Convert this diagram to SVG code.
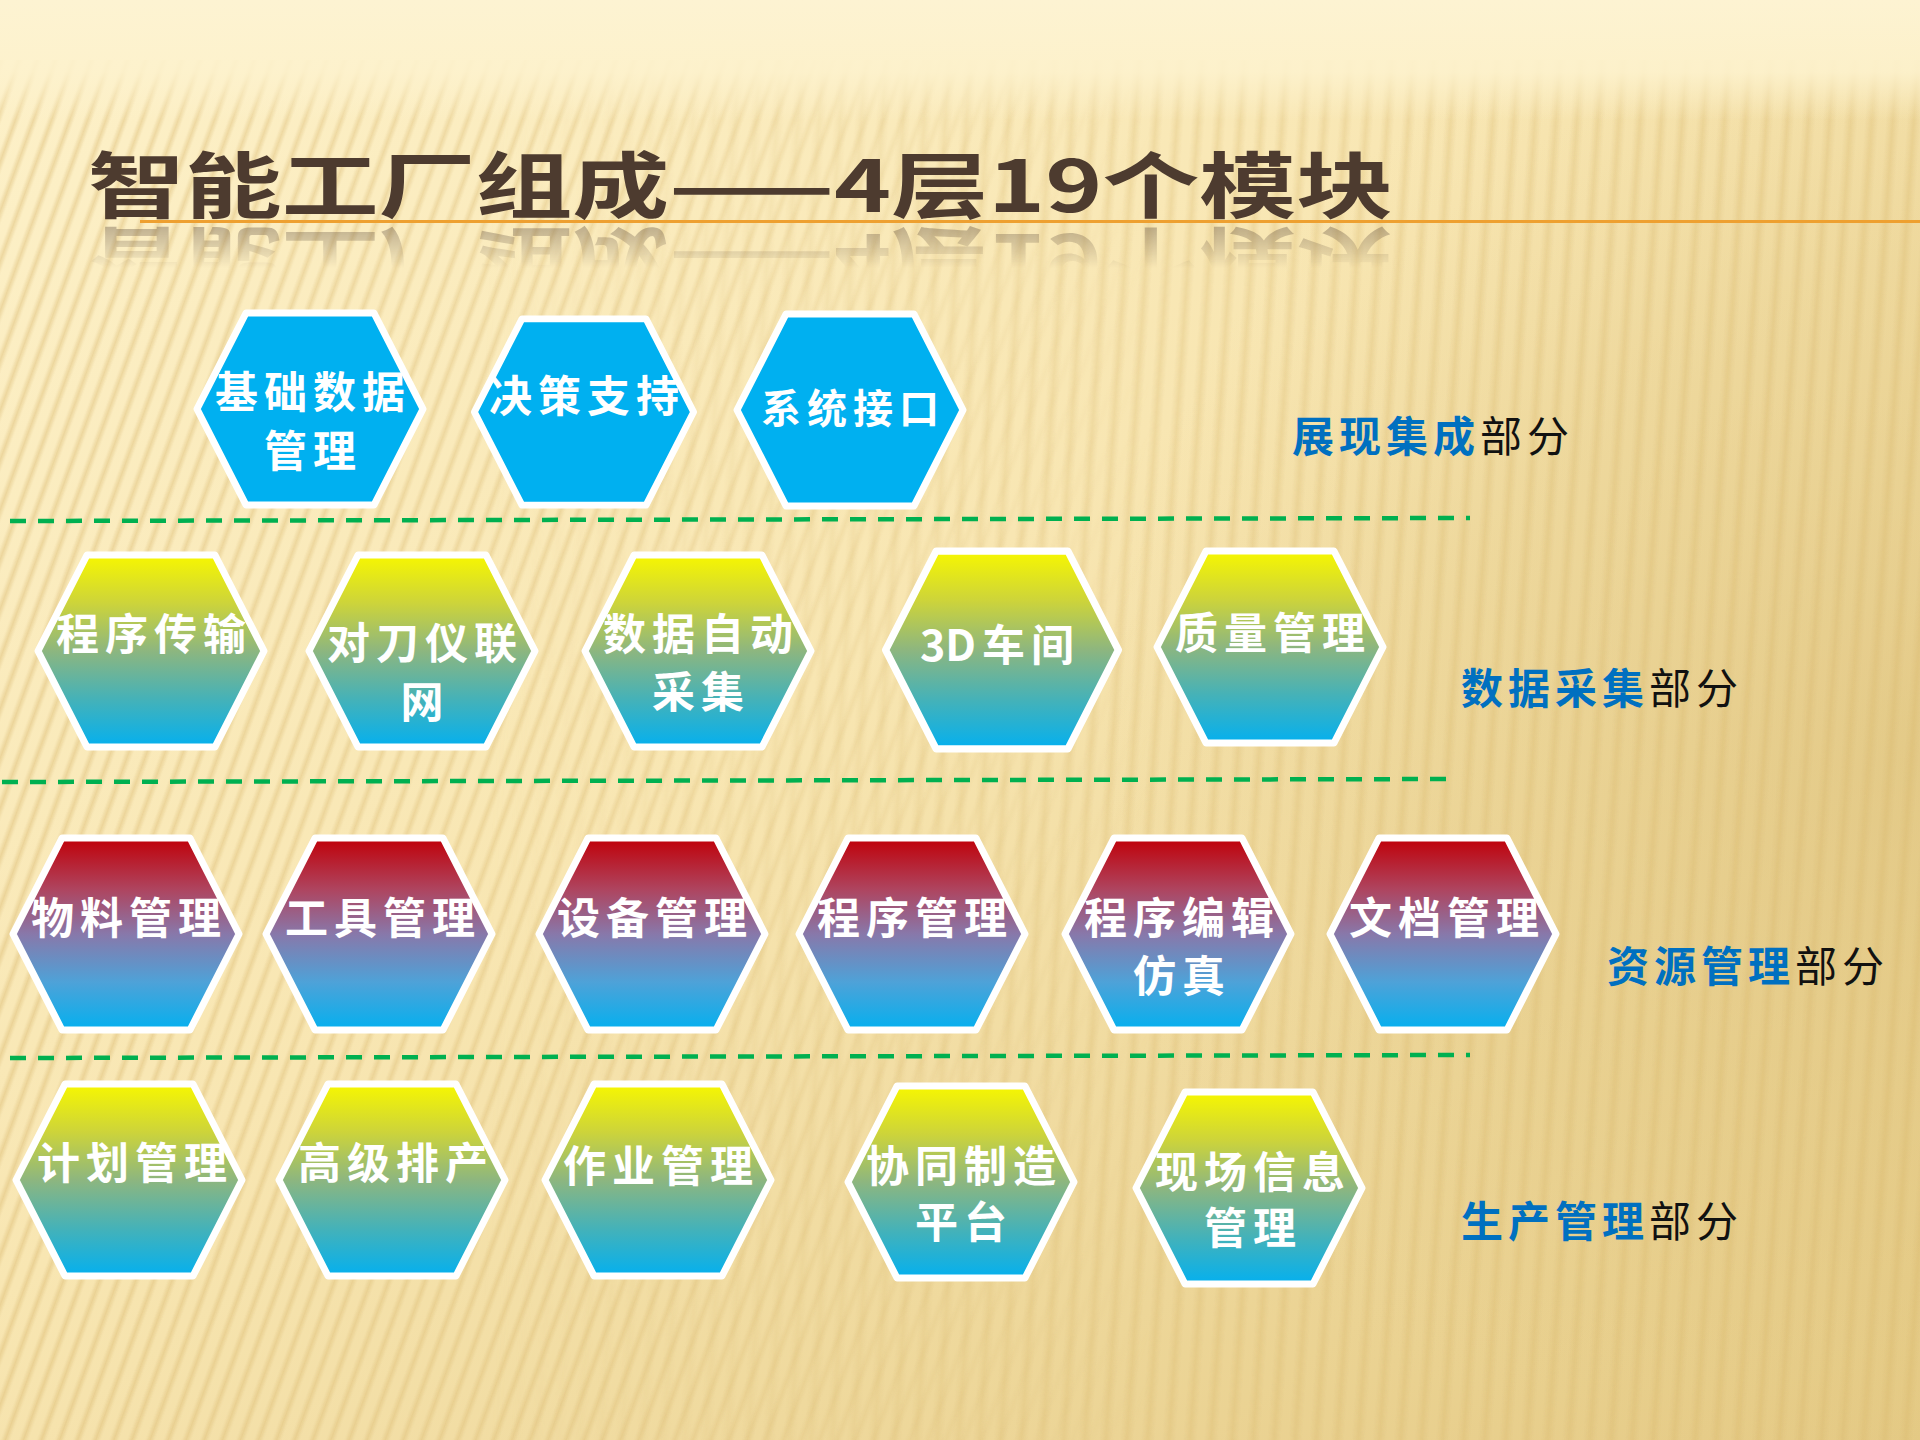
<svg xmlns="http://www.w3.org/2000/svg" width="1920" height="1440" viewBox="0 0 1920 1440">
<defs>
  <linearGradient id="bgBase" x1="0" y1="0" x2="1" y2="1">
    <stop offset="0" stop-color="#fdf1c9"/>
    <stop offset="0.45" stop-color="#f8e6b2"/>
    <stop offset="1" stop-color="#e4c983"/>
  </linearGradient>
  <radialGradient id="bgDark" cx="1920" cy="760" r="820" gradientUnits="userSpaceOnUse">
    <stop offset="0" stop-color="#dcc07a" stop-opacity="0.55"/>
    <stop offset="0.6" stop-color="#e2c884" stop-opacity="0.3"/>
    <stop offset="1" stop-color="#e8d090" stop-opacity="0"/>
  </radialGradient>
  <linearGradient id="topFade" x1="0" y1="0" x2="0" y2="1">
    <stop offset="0" stop-color="#fdf3d2" stop-opacity="1"/>
    <stop offset="0.6" stop-color="#fdf2cd" stop-opacity="0.9"/>
    <stop offset="1" stop-color="#fdf2cd" stop-opacity="0"/>
  </linearGradient>
  <linearGradient id="stripeG" x1="0" y1="0" x2="1" y2="0">
    <stop offset="0" stop-color="#d8b66c" stop-opacity="0"/>
    <stop offset="0.5" stop-color="#d8b66c" stop-opacity="0.42"/>
    <stop offset="1" stop-color="#d8b66c" stop-opacity="0"/>
  </linearGradient>
  <linearGradient id="stripeG2" x1="0" y1="0" x2="1" y2="0">
    <stop offset="0" stop-color="#d6b468" stop-opacity="0"/>
    <stop offset="0.5" stop-color="#d6b468" stop-opacity="0.3"/>
    <stop offset="1" stop-color="#d6b468" stop-opacity="0"/>
  </linearGradient>
  <pattern id="stripesL" width="17" height="40" patternUnits="userSpaceOnUse" patternTransform="rotate(20)">
    <rect x="0" y="0" width="9" height="40" fill="url(#stripeG)"/>
  </pattern>
  <pattern id="stripesR" width="21" height="40" patternUnits="userSpaceOnUse" patternTransform="rotate(4)">
    <rect x="0" y="0" width="13" height="40" fill="url(#stripeG2)"/>
  </pattern>
  <linearGradient id="leftMaskG" x1="0" y1="0" x2="1" y2="0">
    <stop offset="0" stop-color="#fff"/>
    <stop offset="0.3" stop-color="#fff" stop-opacity="0.8"/>
    <stop offset="0.6" stop-color="#fff" stop-opacity="0"/>
  </linearGradient>
  <linearGradient id="rightMaskG" x1="0" y1="0" x2="1" y2="0">
    <stop offset="0.25" stop-color="#fff" stop-opacity="0"/>
    <stop offset="0.6" stop-color="#fff" stop-opacity="0.9"/>
    <stop offset="1" stop-color="#fff"/>
  </linearGradient>
  <mask id="maskL" maskUnits="userSpaceOnUse" x="0" y="0" width="1920" height="1440">
    <rect width="1920" height="1440" fill="url(#leftMaskG)"/>
  </mask>
  <mask id="maskR" maskUnits="userSpaceOnUse" x="0" y="0" width="1920" height="1440">
    <rect width="1920" height="1440" fill="url(#rightMaskG)"/>
  </mask>
  <linearGradient id="reflG" x1="0" y1="222" x2="0" y2="268" gradientUnits="userSpaceOnUse">
    <stop offset="0" stop-color="#fff" stop-opacity="0.38"/>
    <stop offset="1" stop-color="#fff" stop-opacity="0"/>
  </linearGradient>
  <mask id="reflMask" maskUnits="userSpaceOnUse" x="0" y="0" width="1920" height="1440">
    <rect x="0" y="223" width="1920" height="60" fill="url(#reflG)"/>
  </mask>
  <linearGradient id="gYellow" x1="0" y1="0" x2="0" y2="1">
    <stop offset="0" stop-color="#f7f700"/>
    <stop offset="0.25" stop-color="#cdd43a"/>
    <stop offset="0.5" stop-color="#8db67f"/>
    <stop offset="0.75" stop-color="#45b2b8"/>
    <stop offset="1" stop-color="#04b0ef"/>
  </linearGradient>
  <linearGradient id="gRed" x1="0" y1="0" x2="0" y2="1">
    <stop offset="0" stop-color="#c00008"/>
    <stop offset="0.27" stop-color="#ae4560"/>
    <stop offset="0.5" stop-color="#8878aa"/>
    <stop offset="0.75" stop-color="#4ea2d8"/>
    <stop offset="1" stop-color="#04b0ef"/>
  </linearGradient>
  <path id="hex" d="M-113,0 L-64,-96 L64,-96 L113,0 L64,96 L-64,96 Z"/>
  <style>
    .hx { stroke:#ffffff; stroke-width:7; stroke-linejoin:round; }
    .b { fill:#00b0f0; }
    .y { fill:url(#gYellow); }
    .r { fill:url(#gRed); }
    .t { font-family:"Noto Sans CJK SC","Noto Sans",sans-serif; font-size:43px; font-weight:700; fill:#ffffff; letter-spacing:6px; text-anchor:middle; }
    .lab { font-family:"Noto Sans CJK SC","Noto Sans",sans-serif; font-size:42px; letter-spacing:5px; }
    .lb { fill:#0070c0; font-weight:700; }
    .lk { fill:#111111; font-weight:400; }
    .title { font-family:"Noto Sans CJK SC","Noto Sans",sans-serif; font-size:72px; font-weight:700; fill:#4d3b2f; }
    .dash { stroke:#00b050; stroke-width:4.5; stroke-dasharray:16 12; fill:none; }
  </style>
</defs>

<g id="background">
  <rect width="1920" height="1440" fill="url(#bgBase)"/>
  <rect width="1920" height="1440" fill="url(#bgDark)"/>
  <rect y="60" width="1920" height="1380" fill="url(#stripesL)" mask="url(#maskL)"/>
  <rect y="60" width="1920" height="1380" fill="url(#stripesR)" mask="url(#maskR)"/>
  <rect width="1920" height="120" fill="url(#topFade)"/>
</g>

<g id="title">
  <text id="titleText" class="title" x="88" y="212" textLength="1305" lengthAdjust="spacingAndGlyphs">智能工厂组成——4层19个模块</text>
  <g mask="url(#reflMask)" aria-hidden="true">
    <use href="#titleText" transform="translate(0,446) scale(1,-1)"/>
  </g>
  <line x1="140" y1="221.5" x2="1920" y2="221.5" stroke="#eea030" stroke-width="3"/>
</g>

<g id="connectors">
  <line class="dash" x1="10" y1="521" x2="1470" y2="518"/>
  <line class="dash" x1="2" y1="782" x2="1457" y2="779"/>
  <line class="dash" x1="10" y1="1058" x2="1470" y2="1055"/>
</g>

<g id="n1"><use href="#hex" class="hx b" transform="translate(310,409)"/>
  <text class="t" x="313" y="408">基础数据</text><text class="t" x="313" y="467">管理</text></g>
<g id="n2"><use href="#hex" class="hx b" transform="translate(584,412) scale(0.97)"/>
  <text class="t" x="587" y="412">决策支持</text></g>
<g id="n3"><use href="#hex" class="hx b" transform="translate(850,410)"/>
  <text class="t" x="853" y="423" style="font-size:40px">系统接口</text></g>

<g id="n4"><use href="#hex" class="hx y" transform="translate(151,651)"/>
  <text class="t" x="154" y="650">程序传输</text></g>
<g id="n5"><use href="#hex" class="hx y" transform="translate(422,651)"/>
  <text class="t" x="425" y="659">对刀仪联</text><text class="t" x="425" y="718">网</text></g>
<g id="n6"><use href="#hex" class="hx y" transform="translate(698,651)"/>
  <text class="t" x="701" y="650">数据自动</text><text class="t" x="701" y="708">采集</text></g>
<g id="n7"><use href="#hex" class="hx y" transform="translate(1002,650) scale(1.03)"/>
  <text class="t" x="1000" y="661"><tspan style="letter-spacing:0">3D</tspan><tspan dx="6">车间</tspan></text></g>
<g id="n8"><use href="#hex" class="hx y" transform="translate(1270,647)"/>
  <text class="t" x="1273" y="649">质量管理</text></g>

<g id="n9"><use href="#hex" class="hx r" transform="translate(126,934)"/>
  <text class="t" x="129" y="934">物料管理</text></g>
<g id="n10"><use href="#hex" class="hx r" transform="translate(379,934)"/>
  <text class="t" x="383" y="934">工具管理</text></g>
<g id="n11"><use href="#hex" class="hx r" transform="translate(652,934)"/>
  <text class="t" x="655" y="934">设备管理</text></g>
<g id="n12"><use href="#hex" class="hx r" transform="translate(912,934)"/>
  <text class="t" x="915" y="934">程序管理</text></g>
<g id="n13"><use href="#hex" class="hx r" transform="translate(1178,934)"/>
  <text class="t" x="1182" y="934">程序编辑</text><text class="t" x="1182" y="992">仿真</text></g>
<g id="n14"><use href="#hex" class="hx r" transform="translate(1443,934)"/>
  <text class="t" x="1447" y="934">文档管理</text></g>

<g id="n15"><use href="#hex" class="hx y" transform="translate(129,1180)"/>
  <text class="t" x="135" y="1179">计划管理</text></g>
<g id="n16"><use href="#hex" class="hx y" transform="translate(392,1180)"/>
  <text class="t" x="396" y="1179">高级排产</text></g>
<g id="n17"><use href="#hex" class="hx y" transform="translate(658,1180)"/>
  <text class="t" x="661" y="1182">作业管理</text></g>
<g id="n18"><use href="#hex" class="hx y" transform="translate(961,1182)"/>
  <text class="t" x="964" y="1182">协同制造</text><text class="t" x="964" y="1238">平台</text></g>
<g id="n19"><use href="#hex" class="hx y" transform="translate(1249,1188)"/>
  <text class="t" x="1253" y="1188">现场信息</text><text class="t" x="1253" y="1244">管理</text></g>

<g id="labels">
  <text class="lab" x="1292" y="452"><tspan class="lb">展现集成</tspan><tspan class="lk">部分</tspan></text>
  <text class="lab" x="1461" y="704"><tspan class="lb">数据采集</tspan><tspan class="lk">部分</tspan></text>
  <text class="lab" x="1607" y="982"><tspan class="lb">资源管理</tspan><tspan class="lk">部分</tspan></text>
  <text class="lab" x="1461" y="1237"><tspan class="lb">生产管理</tspan><tspan class="lk">部分</tspan></text>
</g>
</svg>
